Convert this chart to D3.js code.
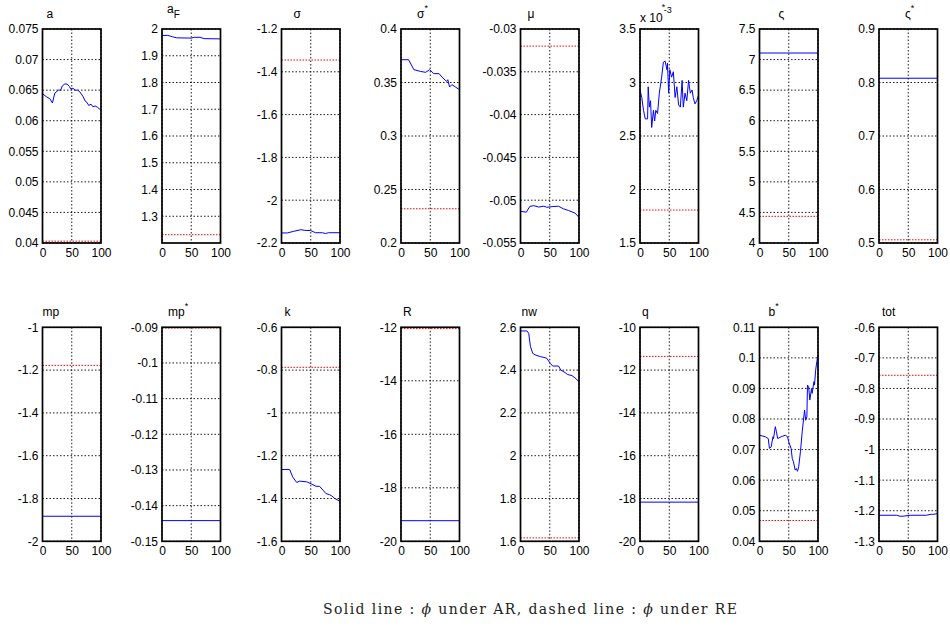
<!DOCTYPE html>
<html><head><meta charset="utf-8">
<script src="https://cdn.jsdelivr.net/npm/d3@7"></script>
<style>body{margin:0;background:#fff}svg{display:block}</style>
</head><body><svg id="c" width="950" height="628"></svg>
<script>
// ---------- DATA ----------
const titleMain = ["a","a","σ","σ","μ","","ς","ς","mp","mp","k","R","nw","q","b","tot"];
const titleSup  = ["","","","*","","*","","*","","*","","","","","*",""];
const titleSub  = ["","F","","","","","","","","","","","","","",""];
const yExponent = ["","","","","","-3","","","","","","","","","",""];

const yDomains = [[0.04,0.075],[1.2,2],[-2.2,-1.2],[0.2,0.4],[-0.055,-0.03],[1.5,3.5],[4,7.5],[0.5,0.9],
                  [-2,-1],[-0.15,-0.09],[-1.6,-0.6],[-20,-12],[1.6,2.6],[-20,-10],[0.04,0.11],[-1.3,-0.6]];
const yTicks = [
  [0.04,0.045,0.05,0.055,0.06,0.065,0.07,0.075],
  [1.3,1.4,1.5,1.6,1.7,1.8,1.9,2],
  [-2.2,-2,-1.8,-1.6,-1.4,-1.2],
  [0.2,0.25,0.3,0.35,0.4],
  [-0.055,-0.05,-0.045,-0.04,-0.035,-0.03],
  [1.5,2,2.5,3,3.5],
  [4,4.5,5,5.5,6,6.5,7,7.5],
  [0.5,0.6,0.7,0.8,0.9],
  [-2,-1.8,-1.6,-1.4,-1.2,-1],
  [-0.15,-0.14,-0.13,-0.12,-0.11,-0.1,-0.09],
  [-1.6,-1.4,-1.2,-1,-0.8,-0.6],
  [-20,-18,-16,-14,-12],
  [1.6,1.8,2,2.2,2.4,2.6],
  [-20,-18,-16,-14,-12,-10],
  [0.04,0.05,0.06,0.07,0.08,0.09,0.1,0.11],
  [-1.3,-1.2,-1.1,-1,-0.9,-0.8,-0.7,-0.6]
];
const xTicks = [0,50,100];

// dashed line: phi under RE (constant)
const reValues = [0.0403,1.231,-1.345,0.232,-0.032,1.808,4.436,0.506,
                  -1.178,-0.0902,-0.787,-12.05,1.616,-11.36,0.0468,-0.757];

// solid line: phi under AR  ([t, value])
const ar_a = [[0,0.0644],[7,0.0639],[12.6,0.0636],[17,0.0629],[21,0.0645],[27,0.065],[31,0.065],[34,0.0657],[38,0.066],[42,0.066],[46,0.0656],[48,0.0652],[52,0.0653],[56,0.065],[60,0.065],[64,0.0647],[69,0.064],[73,0.0632],[76,0.063],[79,0.0625],[83,0.0627],[86,0.0623],[90,0.0624],[94,0.0622],[100,0.0617]];
const ar_aF = [[0,1.976],[10,1.976],[18,1.971],[25,1.967],[50,1.966],[55,1.969],[65,1.969],[72,1.964],[100,1.963]];
const ar_sigma = [[0,-2.153],[10,-2.153],[20,-2.146],[33,-2.138],[40,-2.141],[50,-2.142],[58,-2.152],[70,-2.152],[75,-2.156],[80,-2.152],[100,-2.152]];
const ar_sigmaS = [[0,0.3713],[13,0.3713],[22,0.362],[33,0.3604],[42,0.3595],[49,0.362],[56,0.3583],[65,0.3583],[70,0.3551],[78,0.351],[80,0.3526],[83,0.3458],[87,0.348],[93,0.3458],[100,0.3433]];
const ar_mu = [[0,-0.0513],[10,-0.0514],[16,-0.05072],[23,-0.05064],[31,-0.0508],[40,-0.0507],[45,-0.05083],[54,-0.05075],[65,-0.0507],[73,-0.051],[82,-0.0512],[93,-0.0515],[100,-0.052]];
const ar_pi = [[0,2.93],[3,2.86],[6,2.74],[9,2.66],[13,2.66],[14,2.96],[16,2.77],[18,2.83],[20,2.58],[23,2.74],[25,2.64],[27,2.74],[30,2.71],[33,2.9],[37,3.05],[40,3.19],[43,3.2],[46,3.12],[47,3.18],[49,2.9],[51,3.12],[54,3.05],[57,3.1],[60,2.86],[63,2.96],[66,2.79],[69,2.77],[72,3.02],[74,2.77],[77,2.9],[80,2.83],[83,3.02],[86,2.9],[89,2.93],[91,2.86],[94,2.8],[97,2.83],[100,2.88]];
const ar_varsigma = [[0,7.107],[100,7.107]];
const ar_varsigmaS = [[0,0.808],[100,0.808]];
const ar_mp = [[0,-1.883],[100,-1.883]];
const ar_mpS = [[0,-0.1442],[100,-0.1442]];
const ar_k = [[0,-1.2646],[14,-1.2646],[19,-1.299],[26,-1.325],[31,-1.319],[43,-1.322],[51,-1.332],[59,-1.343],[65,-1.343],[71,-1.361],[76,-1.377],[82,-1.382],[86,-1.388],[91,-1.4],[100,-1.413]];
const ar_R = [[0,-19.23],[100,-19.23]];
const ar_nw = [[0,2.583],[11,2.583],[14,2.572],[17,2.51],[21,2.478],[25,2.471],[34,2.463],[42,2.458],[45,2.455],[51,2.431],[55,2.419],[65,2.419],[69,2.4],[76,2.389],[80,2.38],[88,2.374],[93,2.364],[100,2.346]];
const ar_q = [[0,-18.17],[100,-18.17]];
const ar_bS = [[0,0.0747],[10,0.0742],[15,0.0736],[17,0.0704],[20,0.0709],[23,0.0742],[24,0.0736],[27,0.0775],[29,0.0758],[31,0.0736],[37,0.0742],[44,0.0747],[48,0.0742],[50,0.0725],[54,0.0704],[56,0.0671],[58,0.066],[61,0.0633],[63,0.0638],[65,0.0629],[67,0.0644],[70,0.0693],[73,0.0758],[77,0.0829],[79,0.0796],[81,0.0807],[82,0.0911],[84,0.0906],[86,0.0862],[89,0.09],[90,0.0884],[93,0.0922],[94,0.0911],[96,0.096],[98,0.0988],[100,0.1009]];
const ar_tot = [[0,-1.2148],[30,-1.2148],[36,-1.218],[41,-1.218],[53,-1.2148],[81,-1.2148],[89,-1.2115],[92,-1.212],[100,-1.2093]];

const arSeries = [ar_a,ar_aF,ar_sigma,ar_sigmaS,ar_mu,ar_pi,ar_varsigma,ar_varsigmaS,
                  ar_mp,ar_mpS,ar_k,ar_R,ar_nw,ar_q,ar_bS,ar_tot];

const captionParts = ["Solid line : ","ϕ"," under AR, dashed line : ","ϕ"," under RE"];

// ---------- LAYOUT ----------
const colLeft0 = 42.5, colStep = 119.5, plotW = 58.5, plotH = 214;
const rowTop = [29, 327.3];
const titleDx = [4,5,12,16,7,20,19,26, 0,6,3,2,1,2,9,3];
const FONT = "'Liberation Sans', Arial, Helvetica, sans-serif";

const svg = d3.select("#c");
svg.append("rect").attr("width",950).attr("height",628).attr("fill","#fff");

const fmt = v => String(+v.toPrecision(10));

for (let i = 0; i < 16; i++) {
  const left = colLeft0 + (i % 8) * colStep;
  const top = rowTop[Math.floor(i / 8)];
  const x = d3.scaleLinear().domain([0,100]).range([left, left + plotW]);
  const y = d3.scaleLinear().domain(yDomains[i]).range([top + plotH, top]);
  const g = svg.append("g");

  // grid
  g.selectAll(null).data(yTicks[i]).join("line")
    .attr("x1", left).attr("x2", left + plotW)
    .attr("y1", d => y(d)).attr("y2", d => y(d))
    .attr("stroke", "#000").attr("stroke-width", 0.9).attr("stroke-dasharray", "1.5,2");
  g.selectAll(null).data(xTicks).join("line")
    .attr("x1", d => x(d)).attr("x2", d => x(d))
    .attr("y1", top).attr("y2", top + plotH)
    .attr("stroke", "#000").attr("stroke-width", 0.9).attr("stroke-dasharray", "1.5,2");

  // RE dashed line
  g.append("line")
    .attr("x1", x(0)).attr("x2", x(100))
    .attr("y1", y(reValues[i])).attr("y2", y(reValues[i]))
    .attr("stroke", "#ff0000").attr("stroke-width", 1).attr("stroke-dasharray", "1.5,1.5");

  // AR solid line
  g.append("path").datum(arSeries[i])
    .attr("d", d3.line().x(d => x(d[0])).y(d => y(d[1])))
    .attr("fill", "none").attr("stroke", "#0000ff").attr("stroke-width", 1);

  // box
  g.append("rect").attr("x", left).attr("y", top).attr("width", plotW).attr("height", plotH)
    .attr("fill", "none").attr("stroke", "#000").attr("stroke-width", 1.7);

  // y axis labels
  const ya = g.append("g").attr("transform", `translate(${left},0)`)
    .call(d3.axisLeft(y).tickValues(yTicks[i]).tickFormat(fmt).tickSize(0).tickPadding(4));
  ya.select(".domain").remove();
  ya.selectAll("text").attr("font-family", FONT).attr("font-size", 12).attr("fill", "#000");

  // x axis labels
  const xa = g.append("g").attr("transform", `translate(0,${top + plotH})`)
    .call(d3.axisBottom(x).tickValues(xTicks).tickFormat(fmt).tickSize(0).tickPadding(5));
  xa.select(".domain").remove();
  xa.selectAll("text").attr("font-family", FONT).attr("font-size", 12).attr("fill", "#000");

  const baseY = top - 11;
  if (yExponent[i]) {
    // exponent label, with the panel's superscript star drawn in the same text
    const e = g.append("text").attr("x", left).attr("y", top - 7.5)
      .attr("font-family", FONT).attr("font-size", 12).attr("fill", "#000");
    e.append("tspan").text("x 10");
    e.append("tspan").attr("dy", -9).attr("dx", 1).attr("font-size", 9).text(yExponent[i]);
    if (titleSup[i]) e.append("tspan").attr("dx", -10).attr("dy", -3).attr("font-size", 9).text(titleSup[i]);
  } else {
    // title
    const t = g.append("text").attr("x", left + titleDx[i]).attr("y", titleSub[i] ? baseY - 5 : baseY)
      .attr("font-family", FONT).attr("font-size", 12).attr("fill", "#000");
    t.append("tspan").text(titleMain[i]);
    if (titleSub[i]) t.append("tspan").attr("dy", 5).attr("font-size", 10).text(titleSub[i]);
    if (titleSup[i]) t.append("tspan").attr("dy", -7).attr("font-size", 9).text(titleSup[i]);
  }
}

// caption
const cap = svg.append("text").attr("x", 530).attr("y", 614).attr("text-anchor", "middle")
  .attr("font-family", "'DejaVu Serif', 'Liberation Serif', serif").attr("font-size", 14).attr("fill", "#222")
  .attr("textLength", 414).attr("lengthAdjust", "spacing");
captionParts.forEach((p, j) => {
  const s = cap.append("tspan").text(p);
  if (p === "ϕ") s.attr("font-style", "italic");
});
</script></body></html>
